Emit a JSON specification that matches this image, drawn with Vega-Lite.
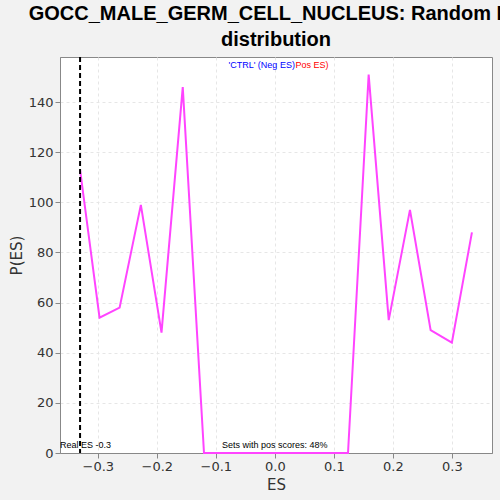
{
  "$schema": "https://vega.github.io/schema/vega-lite/v6.json",
  "width": 432,
  "height": 396,
  "autosize": "none",
  "padding": {"left": 60, "top": 57, "right": 8, "bottom": 47},
  "background": "#f2f2f2",
  "title": {"text": ["GOCC_MALE_GERM_CELL_NUCLEUS: Random ES", "distribution"], "fontSize": 20, "font": "Liberation Sans", "fontWeight": "bold", "color": "#000000", "offset": 6, "lineHeight": 26},
  "data": {"values": [
    {"es": -0.330, "p": 113},
    {"es": -0.297, "p": 54},
    {"es": -0.263, "p": 58},
    {"es": -0.227, "p": 99},
    {"es": -0.192, "p": 48},
    {"es": -0.156, "p": 146},
    {"es": -0.120, "p": 0},
    {"es": -0.086, "p": 0},
    {"es": -0.051, "p": 0},
    {"es": -0.016, "p": 0},
    {"es": 0.019, "p": 0},
    {"es": 0.054, "p": 0},
    {"es": 0.089, "p": 0},
    {"es": 0.124, "p": 0},
    {"es": 0.159, "p": 151},
    {"es": 0.193, "p": 53},
    {"es": 0.229, "p": 97},
    {"es": 0.264, "p": 49},
    {"es": 0.300, "p": 44},
    {"es": 0.334, "p": 88}
  ]},
  "layer": [
    {
      "mark": {"type": "line", "color": "#ff44ff", "strokeWidth": 2},
      "encoding": {
        "x": {"field": "es", "type": "quantitative", "title": "ES", "scale": {"domain": [-0.364, 0.368], "nice": false, "zero": false},
          "axis": {"values": [-0.3, -0.2, -0.1, 0, 0.1, 0.2, 0.3], "format": ".1f", "gridDash": [3, 3], "gridColor": "#e6e6e6", "titleFontSize": 15, "labelFontSize": 13, "titleFont": "DejaVu Sans", "labelFont": "DejaVu Sans", "titleFontWeight": "normal", "labelColor": "#333", "titleColor": "#333"}},
        "y": {"field": "p", "type": "quantitative", "title": "P(ES)", "scale": {"domain": [0, 158], "nice": false},
          "axis": {"values": [0, 10, 20, 30, 40, 50, 60, 70, 80, 90, 100, 110, 120, 130, 140, 150], "labelOverlap": false, "gridDash": [3, 3], "gridColor": "#e6e6e6", "titleFontSize": 15, "labelFontSize": 13, "titleFont": "DejaVu Sans", "labelFont": "DejaVu Sans", "titleFontWeight": "normal", "labelColor": "#333", "titleColor": "#333"}}
      }
    },
    {
      "data": {"values": [{"x": -0.330}]},
      "mark": {"type": "rule", "strokeDash": [5, 3], "strokeWidth": 2, "color": "#000000"},
      "encoding": {"x": {"field": "x", "type": "quantitative"}}
    },
    {
      "data": {"values": [{"x": -0.364, "y": 1, "t": "Real ES -0.3"}]},
      "mark": {"type": "text", "align": "left", "baseline": "bottom", "fontSize": 9, "dx": 0},
      "encoding": {"x": {"field": "x", "type": "quantitative"}, "y": {"field": "y", "type": "quantitative"}, "text": {"field": "t"}}
    },
    {
      "data": {"values": [{"x": 0, "y": 1, "t": "Sets with pos scores: 48%"}]},
      "mark": {"type": "text", "align": "center", "baseline": "bottom", "fontSize": 9},
      "encoding": {"x": {"field": "x", "type": "quantitative"}, "y": {"field": "y", "type": "quantitative"}, "text": {"field": "t"}}
    },
    {
      "data": {"values": [{"x": 0.034, "y": 158, "t": "'CTRL' (Neg ES)"}]},
      "mark": {"type": "text", "baseline": "top", "align": "right", "fontSize": 9, "dy": 4, "color": "#0000ff"},
      "encoding": {"x": {"field": "x", "type": "quantitative"}, "y": {"field": "y", "type": "quantitative"}, "text": {"field": "t"}}
    },
    {
      "data": {"values": [{"x": 0.035, "y": 158, "t": "Pos ES)"}]},
      "mark": {"type": "text", "baseline": "top", "align": "left", "fontSize": 9, "dy": 4, "color": "#ff0000"},
      "encoding": {"x": {"field": "x", "type": "quantitative"}, "y": {"field": "y", "type": "quantitative"}, "text": {"field": "t"}}
    }
  ],
  "config": {"view": {"stroke": "#888", "fill": "#ffffff"}, "axis": {"domainColor": "#888", "tickColor": "#888"}}
}
